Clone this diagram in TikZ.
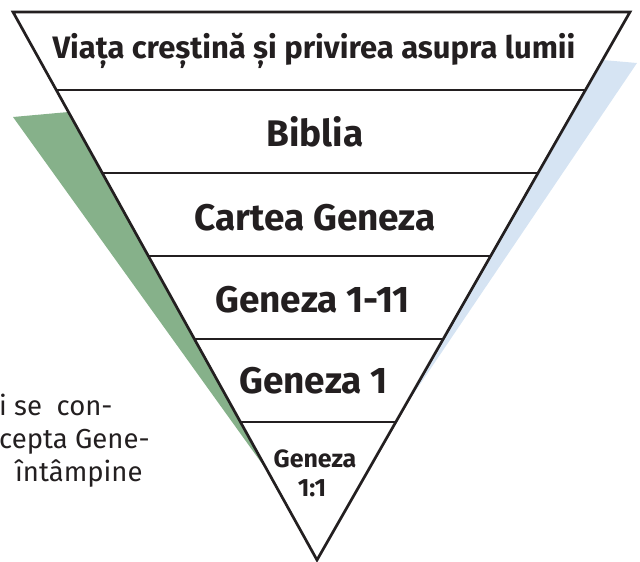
\documentclass[tikz,border=0pt]{standalone}
\usepackage{fontspec}
\setmainfont{Fira Sans}
\usetikzlibrary{calc}
\definecolor{shadowgreen}{RGB}{134,177,138}
\definecolor{shadowblue}{RGB}{214,228,243}
\definecolor{ink}{RGB}{35,31,32}
\tikzset{
  outline/.style={draw=ink, line width=2.7pt, line join=miter, fill=white},
  bandline/.style={draw=ink, line width=2.5pt},
  titletxt/.style={text=ink, inner sep=0pt, anchor=base, font=\bfseries\fontsize{31}{36}\selectfont},
  bigtxt/.style={text=ink, inner sep=0pt, anchor=base, font=\bfseries\fontsize{37}{44}\selectfont},
  smalltxt/.style={text=ink, inner sep=0pt, anchor=base, font=\bfseries\fontsize{25}{30}\selectfont},
  sidetxt/.style={text=ink, inner sep=0pt, anchor=base west, font=\fontsize{27.5}{34}\selectfont},
}
\begin{document}
\begin{tikzpicture}[x=1pt,y=-1pt]
\clip (0,0) rectangle (640,562);
\coordinate (A) at (13,12);
\coordinate (B) at (630,12);
\coordinate (C) at (317,560);
% shadows
\fill[shadowgreen] (13,117) -- ($(A)!0.1825!(C)$) -- ($(A)!0.8412!(C)$) -- cycle;
\fill[shadowblue] ($(B)!0.0876!(C)$) -- (637,63) -- ($(B)!0.7263!(C)$) -- cycle;
% triangle
\draw[outline] (A) -- (B) -- (C) -- cycle;
% bands
\foreach \t in {0.14234,0.29380,0.44526,0.59672,0.74818}{
  \draw[bandline] ($(A)!\t!(C)$) -- ($(B)!\t!(C)$);
}
% texts
\node[titletxt] (t1) at (314,58) {Viața creștină și privirea asupra lumii};
\node[bigtxt] (t2) at (315,146) {Biblia};
\node[bigtxt] (t3) at (315,230) {Cartea Geneza};
\node[bigtxt] (t4) at (312.5,312) {Geneza 1-11};
\node[bigtxt] (t5) at (313.5,393) {Geneza 1};
\node[smalltxt] (t6) at (315,467) {Geneza};
\node[smalltxt] (t7) at (312,496) {1:1};
% side text
\node[sidetxt] (s1) at (-1,415) {i se\ \ con-};
\node[sidetxt] (s2) at (-1,448) {cepta Gene-};
\node[sidetxt] (s3) at (15,481) {întâmpine};
\end{tikzpicture}
\end{document}
